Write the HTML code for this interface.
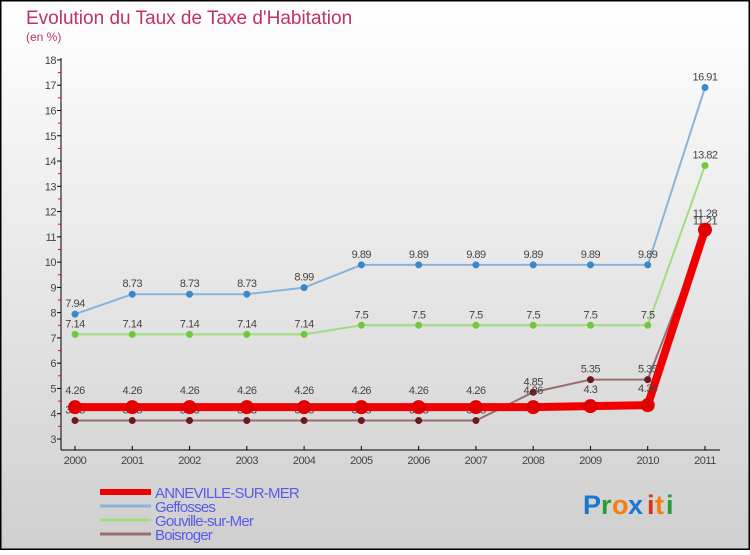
<!DOCTYPE html>
<html><head><meta charset="utf-8"><style>
body{margin:0}
#c{width:750px;height:550px;position:relative;font-family:"Liberation Sans",sans-serif}
</style></head><body>
<div id="c">
<svg id="s" width="750" height="550" xmlns="http://www.w3.org/2000/svg" style="font-family:'Liberation Sans',sans-serif">
<defs><linearGradient id="bg" x1="0" y1="0" x2="0" y2="1"><stop offset="0" stop-color="#ffffff"/><stop offset="1" stop-color="#cfcfcf"/></linearGradient></defs>
<rect x="0.5" y="0.5" width="749" height="549" fill="url(#bg)" stroke="#000" stroke-width="2"/>
<text x="26" y="24" font-size="19" fill="#c0306a">Evolution du Taux de Taxe d'Habitation</text>
<text x="26" y="41" font-size="12" fill="#c0306a">(en %)</text>
<g id="axes"></g><g id="series"></g><g id="legend"></g>
<g font-size="27" font-weight="bold">
<text x="583" y="514" fill="#1a78d0">P</text><text x="601" y="514" fill="#2a9a3a">r</text><text x="612" y="514" fill="#f08010">o</text><text x="628" y="514" fill="#1a78d0">x</text><text x="647" y="514" fill="#e03010">i</text><text x="655" y="514" fill="#f08010">t</text><text x="666" y="514" fill="#2a9a3a">i</text>
</g>
</svg>
</div>
<script>
const years=[2000,2001,2002,2003,2004,2005,2006,2007,2008,2009,2010,2011];
const yTicks=[3,4,5,6,7,8,9,10,11,12,13,14,15,16,17,18];
const anneville=[4.26,4.26,4.26,4.26,4.26,4.26,4.26,4.26,4.26,4.3,4.34,11.28];
const geffosses=[7.94,8.73,8.73,8.73,8.99,9.89,9.89,9.89,9.89,9.89,9.89,16.91];
const gouville=[7.14,7.14,7.14,7.14,7.14,7.5,7.5,7.5,7.5,7.5,7.5,13.82];
const boisroger=[3.73,3.73,3.73,3.73,3.73,3.73,3.73,3.73,4.85,5.35,5.35,11.21];
const NS="http://www.w3.org/2000/svg";
const X=i=>75+i*(630/11);
const Y=v=>439-(v-3)*25.27;
function mk(t,a,p){const e=document.createElementNS(NS,t);for(const k in a)e.setAttribute(k,a[k]);p.appendChild(e);return e;}
const ax=document.getElementById('axes');
let e=mk('line',{x1:61,y1:58,x2:61,y2:450,stroke:'#000'},ax);

e=mk('line',{x1:61,y1:450,x2:720,y2:450,stroke:'#000'},ax);

yTicks.forEach(v=>{
 mk('line',{x1:57,y1:Y(v),x2:61,y2:Y(v),stroke:'#000'},ax);
 if(v<18)mk('line',{x1:58,y1:Y(v+0.5),x2:61,y2:Y(v+0.5),stroke:'#f00'},ax);
 const t=mk('text',{x:56,y:Y(v)+4,'font-size':11,fill:'#444','text-anchor':'end','letter-spacing':'-0.5'},ax);
 t.textContent=v;
 
 
});
years.forEach((y,i)=>{
 mk('line',{x1:X(i),y1:446,x2:X(i),y2:450,stroke:'#000'},ax);
 const t=mk('text',{x:X(i),y:464,'font-size':11,fill:'#444','text-anchor':'middle','letter-spacing':'-0.5'},ax);
 t.textContent=y;
 
 
});
const sg=document.getElementById('series');
function draw(name,vals,col,w,r,dot,labOff){
 const g=mk('g',{},sg);
 
 
 mk('polyline',{points:vals.map((v,i)=>X(i)+','+Y(v)).join(' '),fill:'none',stroke:col,'stroke-width':w},g);
 vals.forEach((v,i)=>{
  const c=mk('circle',{cx:X(i),cy:Y(v),r:r,fill:dot},g);
  
  
  const t=mk('text',{x:X(i),y:Y(v)+labOff,'font-size':11,fill:'#444','text-anchor':'middle','letter-spacing':'-0.5'},g);
  t.textContent=v;
  
  
 });
}
draw('geffosses',geffosses,'#8ab4d8',2,3.5,'#3a88c8',-7);
draw('gouville',gouville,'#a0dc80',2,3.5,'#70c840',-7);
draw('boisroger',boisroger,'#9a6e6e',2,3.5,'#6a1a1a',-7);
draw('anneville',anneville,'#f00000',8,7,'#e00000',-13);
boisroger.forEach((v,i)=>{});
const lg=document.getElementById('legend');
const items=[['ANNEVILLE-SUR-MER','#f00000',6],['Geffosses','#8ab4d8',3],['Gouville-sur-Mer','#a0dc80',3],['Boisroger','#9a6e6e',3]];
items.forEach((it,i)=>{
 const y=492+i*14;
 const g=mk('g',{},lg);
 
 
 mk('line',{x1:100,y1:y,x2:151,y2:y,stroke:it[1],'stroke-width':it[2]},g);
 const t=mk('text',{x:155,y:y+6,'font-size':15,fill:'#5a5ae8','letter-spacing':'-0.8'},g);
 t.textContent=it[0];
});
</script>
</body></html>
